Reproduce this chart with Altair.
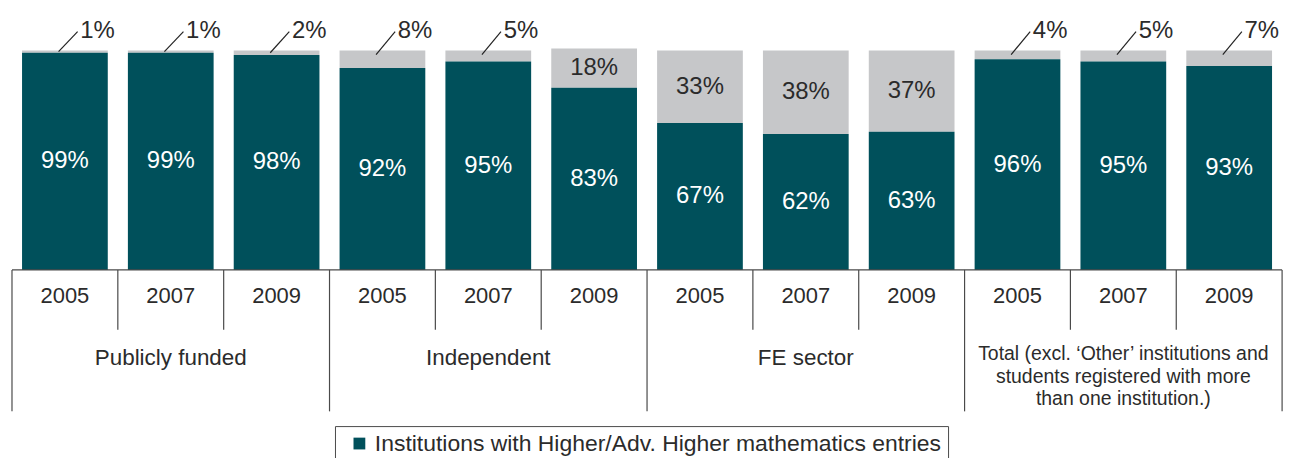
import altair as alt
import pandas as pd

# ---- data ----
group_names = ["Publicly funded", "Independent", "FE sector",
               "Total (excl. \u2018Other\u2019 institutions and|students registered with more|than one institution.)"]
years = ["2005", "2007", "2009"]
with_entries = [99, 99, 98, 92, 95, 83, 67, 62, 63, 96, 95, 93]
without_entries = [1, 1, 2, 8, 5, 18, 33, 38, 37, 4, 5, 7]
legend_label = "Institutions with Higher/Adv. Higher mathematics entries"

TEAL = "#00505B"
GRAY = "#C6C7C9"
INK = "#2b2b2b"
LINE = "#4a4a4a"
FONT = "Liberation Sans"

rows = []
for g, gname in enumerate(group_names):
    for y, yr in enumerate(years):
        i = g * 3 + y
        rows.append(dict(idx=i, year=yr, group=gname,
                         dark=with_entries[i], gray=without_entries[i],
                         series=legend_label))
df = pd.DataFrame(rows)
df["xl"] = df["idx"] - 0.405
df["xr"] = df["idx"] + 0.405
df["top"] = df["dark"] + df["gray"]
df["dark_mid"] = df["dark"] / 2
df["gray_mid"] = df["dark"] + df["gray"] / 2
df["dark_lbl"] = df["dark"].astype(str) + "%"
df["gray_lbl"] = df["gray"].astype(str) + "%"
df["lead_x"] = df["idx"] - 0.06
df["lead_x2"] = df["idx"] + 0.12
df["lead_y"] = (df["top"] - df["gray"] / 2).clip(lower=98.2)
df["lead_y2"] = 108.6
df["out_x"] = df["idx"] + 0.145
df["out_y"] = 105.9
df["year_y"] = -12.05

inside = df[df["gray"] >= 10]
outside = df[df["gray"] < 10]

n = len(df)
# dividers
div_rows = []
for k in range(n + 1):
    div_rows.append(dict(x=k - 0.5, y=0, y2=(-64.5 if k % 3 == 0 else -27.3)))
divs = pd.DataFrame(div_rows)
base = pd.DataFrame([dict(x=-0.5, x2=n - 0.5, y=0)])

# group labels
glab = []
mlab = []
for g, gname in enumerate(group_names):
    lines = gname.split("|")
    cx = g * 3 + 1
    if len(lines) == 1:
        glab.append(dict(x=cx, y=-40.0, text=lines[0]))
    else:
        for j, ln in enumerate(lines):
            mlab.append(dict(x=cx, y=-38.5 - j * 10.2, text=ln))
glab = pd.DataFrame(glab)
mlab = pd.DataFrame(mlab)

xs = alt.Scale(domain=[-0.5377, 11.518], nice=False, zero=False)
ys = alt.Scale(domain=[-85.45, 119.09], nice=False, zero=False)

def X(f):
    return alt.X(f, type="quantitative", scale=xs, axis=None)

def Y(f):
    return alt.Y(f, type="quantitative", scale=ys, axis=None)

b = alt.Chart(df)

dark_bars = b.mark_bar().encode(
    x=X("xl"), x2="xr", y=Y("dark"), y2=alt.datum(0),
    color=alt.Color("series:N",
                    scale=alt.Scale(domain=[legend_label], range=[TEAL]),
                    legend=alt.Legend(title=None, orient="none", legendX=328, legendY=418.7,
                                      symbolType="square", symbolSize=140,
                                      symbolStrokeWidth=0, symbolOffset=7,
                                      labelFont=FONT, labelFontSize=23, labelColor=INK,
                                      labelOffset=4, labelLimit=1000,
                                      strokeColor=LINE, padding=6)),
)
gray_bars = b.mark_bar(color=GRAY).encode(x=X("xl"), x2="xr", y=Y("dark"), y2="top")

dark_text = b.mark_text(color="white", font=FONT, fontSize=24, baseline="middle").encode(
    x=X("idx"), y=Y("dark_mid"), text="dark_lbl")
in_text = alt.Chart(inside).mark_text(color=INK, font=FONT, fontSize=24, baseline="middle").encode(
    x=X("idx"), y=Y("gray_mid"), text="gray_lbl")
out_text = alt.Chart(outside).mark_text(color=INK, font=FONT, fontSize=24, align="left",
                                        baseline="alphabetic").encode(
    x=X("out_x"), y=Y("out_y"), text="gray_lbl")
leaders = alt.Chart(outside).mark_rule(color="#222", strokeWidth=1.2).encode(
    x=X("lead_x"), x2="lead_x2", y=Y("lead_y"), y2="lead_y2")

base_line = alt.Chart(base).mark_rule(color=LINE, strokeWidth=1.2).encode(
    x=X("x"), x2="x2", y=Y("y"))
div_lines = alt.Chart(divs).mark_rule(color=LINE, strokeWidth=1.2).encode(
    x=X("x"), y=Y("y"), y2="y2")
year_text = b.mark_text(color=INK, font=FONT, fontSize=22, baseline="middle").encode(
    x=X("idx"), y=Y("year_y"), text="year")
group_text = alt.Chart(glab).mark_text(color=INK, font=FONT, fontSize=22.5, baseline="middle").encode(
    x=X("x"), y=Y("y"), text="text")
multi_text = alt.Chart(mlab).mark_text(color=INK, font=FONT, fontSize=19.5, baseline="middle").encode(
    x=X("x"), y=Y("y"), text="text")

chart = alt.layer(
    gray_bars, dark_bars, dark_text, in_text, leaders, out_text,
    base_line, div_lines, year_text, group_text, multi_text,
).properties(
    width=1280, height=450, padding=0,
    autosize=alt.AutoSizeParams(type="none"),
).configure_view(stroke=None)

chart.save("out.html", embed_options={"renderer": "svg", "actions": False})
